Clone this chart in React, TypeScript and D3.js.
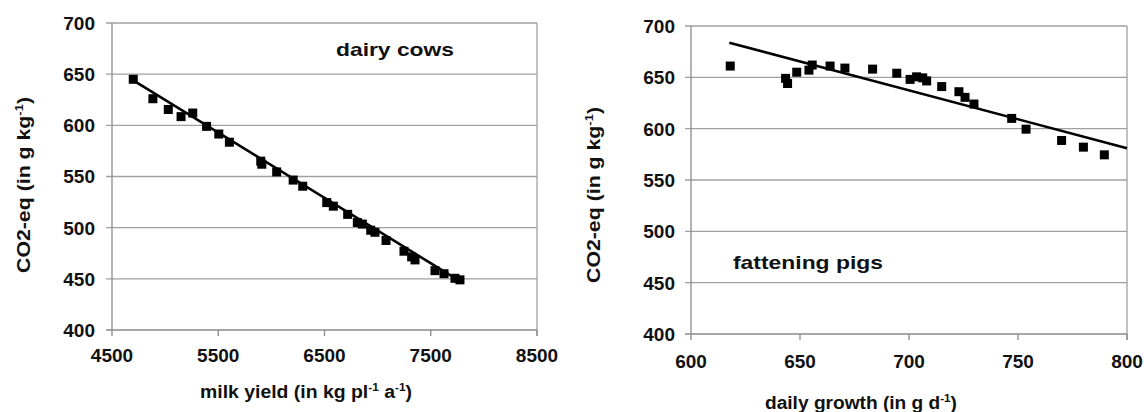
import React from "react";
import * as d3 from "d3";

// ---- data: dairy cows ----
const cowMilkYield = [4700, 4885, 5030, 5150, 5260, 5390, 5505, 5605, 5900, 5910, 6050, 6205, 6295, 6521, 6583, 6718, 6809, 6856, 6935, 6975, 7079, 7248, 7320, 7352, 7540, 7625, 7728, 7775];
const cowCO2 = [645, 626, 615.5, 608.5, 612, 599, 591.5, 583.5, 565, 562, 554.5, 546.5, 540.5, 524.5, 521, 513, 505, 503.5, 497.5, 495.5, 487.5, 477, 471.5, 468.5, 458, 455, 450.5, 449];
const cowTrendX = [4700, 7770];
const cowTrendY = [644, 448];

// ---- data: fattening pigs ----
const pigGrowth = [618, 643.4, 644.3, 648.5, 654.1, 655.6, 663.8, 670.6, 683.3, 694.4, 700.5, 703.5, 706.3, 708.1, 715, 722.9, 725.7, 729.8, 747.1, 753.7, 770, 780, 789.6];
const pigCO2 = [661, 649, 644, 655, 657, 662, 661, 659, 658, 654, 648, 650.5, 649.5, 646.5, 641, 636, 630.5, 624, 610, 599.5, 588.5, 582, 574.5];
const pigTrendX = [617.6, 800];
const pigTrendY = [683.7, 581];

// ---- ticks ----
const yTicks = [400, 450, 500, 550, 600, 650, 700];
const cowXTicks = [4500, 5500, 6500, 7500, 8500];
const pigXTicks = [600, 650, 700, 750, 800];

const FONT = "'Liberation Sans', Arial, Helvetica, sans-serif";
const GRID = "#a0a0a0";
const AXIS = "#8a8a8a";

type PanelProps = {
  xs: number[];
  ys: number[];
  tx: number[];
  ty: number[];
  xTicks: number[];
  xDomain: [number, number];
  xRange: [number, number];
  yRange: [number, number];
  xLabelBase: number;
  yLabelEnd: number;
  label: string;
  labelX: number;
  labelY: number;
  labelLen: number;
  xTitleMain: React.ReactNode;
  xTitleX: number;
  xTitleY: number;
  xTitleLen: number;
  yTitleX: number;
  yTitleY: number;
  yTitleLen: number;
};

function Sup({ t }: { t: string }) {
  return null;
}

function Panel(p: PanelProps) {
  const x = d3.scaleLinear().domain(p.xDomain).range(p.xRange);
  const y = d3.scaleLinear().domain([400, 700]).range(p.yRange);
  const line = d3
    .line<number>()
    .x((_, i) => x(p.tx[i]))
    .y((d) => y(d));
  const [x0, x1] = p.xRange;
  const [yb, yt] = p.yRange;
  const s = 9;
  return (
    <g>
      {yTicks.map((t) => (
        <line key={"g" + t} x1={x0 - 6} x2={x1} y1={y(t)} y2={y(t)} stroke={t === 400 ? AXIS : GRID} strokeWidth={1.3} />
      ))}
      <line x1={x0} x2={x0} y1={yt} y2={yb} stroke={AXIS} strokeWidth={1.3} />
      <line x1={x1} x2={x1} y1={yt} y2={yb + 6} stroke={GRID} strokeWidth={1.3} />
      {p.xTicks.map((t) => (
        <line key={"t" + t} x1={x(t)} x2={x(t)} y1={yb} y2={yb + 6} stroke={AXIS} strokeWidth={1.3} />
      ))}
      {yTicks.map((t) => (
        <text key={"yl" + t} x={p.yLabelEnd} y={y(t)} dy="0.36em" textAnchor="end" fontFamily={FONT} fontWeight="bold" fontSize={19} fill="#111">
          {t}
        </text>
      ))}
      {p.xTicks.map((t) => (
        <text key={"xl" + t} x={x(t)} y={p.xLabelBase} textAnchor="middle" fontFamily={FONT} fontWeight="bold" fontSize={19} fill="#111">
          {t}
        </text>
      ))}
      {p.xs.map((v, i) => (
        <rect key={"p" + i} x={x(v) - s / 2} y={y(p.ys[i]) - s / 2} width={s} height={s} fill="#000" />
      ))}
      <path d={line(p.ty) || ""} fill="none" stroke="#000" strokeWidth={2.6} />
      <text x={p.labelX} y={p.labelY} fontFamily={FONT} fontWeight="bold" fontSize={19} fill="#111" textLength={p.labelLen} lengthAdjust="spacingAndGlyphs">
        {p.label}
      </text>
      <text x={p.xTitleX} y={p.xTitleY} fontFamily={FONT} fontWeight="bold" fontSize={18} fill="#111" textLength={p.xTitleLen} lengthAdjust="spacingAndGlyphs">
        {p.xTitleMain}
      </text>
      <text
        transform={`translate(${p.yTitleX},${p.yTitleY}) rotate(-90)`}
        textAnchor="middle"
        fontFamily={FONT}
        fontWeight="bold"
        fontSize={18}
        fill="#111"
        textLength={p.yTitleLen}
        lengthAdjust="spacingAndGlyphs"
      >
        CO2-eq (in g kg
        <tspan dy={-7} fontSize={11}>-1</tspan>
        <tspan dy={7}>)</tspan>
      </text>
    </g>
  );
}

export default function App() {
  return (
    <div style={{ position: "absolute", left: 0, top: 0 }}>
      <svg width={1144} height={412} viewBox="0 0 1144 412" style={{ display: "block", background: "#fff" }}>
        <rect width={1144} height={412} fill="#fff" />
        <Panel
          xs={cowMilkYield}
          ys={cowCO2}
          tx={cowTrendX}
          ty={cowTrendY}
          xTicks={cowXTicks}
          xDomain={[4500, 8500]}
          xRange={[112, 537]}
          yRange={[330, 23]}
          xLabelBase={361.5}
          yLabelEnd={95}
          label="dairy cows"
          labelX={336}
          labelY={56}
          labelLen={118}
          xTitleMain={
            <>
              milk yield (in kg pl
              <tspan dy={-7} fontSize={11}>-1</tspan>
              <tspan dy={7}> a</tspan>
              <tspan dy={-7} fontSize={11}>-1</tspan>
              <tspan dy={7}>)</tspan>
            </>
          }
          xTitleX={200}
          xTitleY={398}
          xTitleLen={212}
          yTitleX={30}
          yTitleY={185}
          yTitleLen={176}
        />
        <Panel
          xs={pigGrowth}
          ys={pigCO2}
          tx={pigTrendX}
          ty={pigTrendY}
          xTicks={pigXTicks}
          xDomain={[600, 800]}
          xRange={[691, 1127]}
          yRange={[334, 26]}
          xLabelBase={368}
          yLabelEnd={675}
          label="fattening pigs"
          labelX={733}
          labelY={269}
          labelLen={150}
          xTitleMain={
            <>
              daily growth (in g d
              <tspan dy={-7} fontSize={11}>-1</tspan>
              <tspan dy={7}>)</tspan>
            </>
          }
          xTitleX={765}
          xTitleY={409}
          xTitleLen={192}
          yTitleX={600}
          yTitleY={195}
          yTitleLen={176}
        />
      </svg>
    </div>
  );
}
